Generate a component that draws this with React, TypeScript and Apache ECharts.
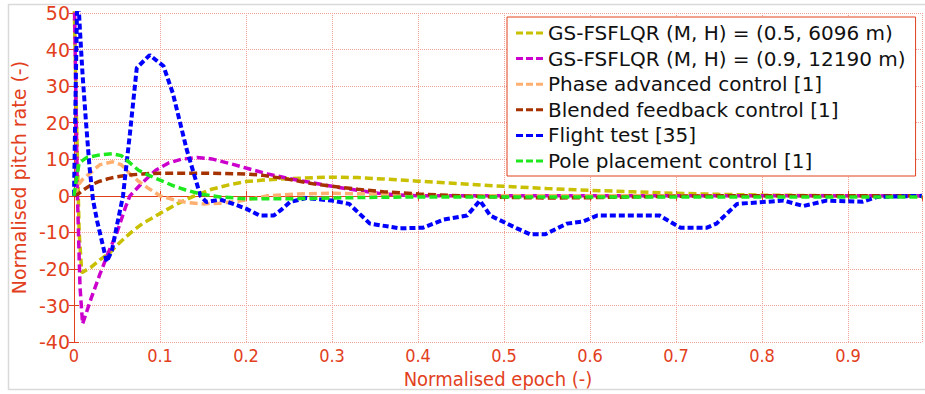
import React, { useEffect, useRef } from "react";
import * as echarts from "echarts";

// ---- data (x: normalised epoch, y: normalised pitch rate) ----
const seriesNames = [
  "GS-FSFLQR (M, H) = (0.5, 6096 m)",
  "GS-FSFLQR (M, H) = (0.9, 12190 m)",
  "Phase advanced control [1]",
  "Blended feedback control [1]",
  "Flight test [35]",
  "Pole placement control [1]",
];

const gsLow: [number, number][] = [
  [0, 55], [0.003, 20], [0.006, -10], [0.009, -21], [0.02, -19.5], [0.03, -17.5],
  [0.042, -15.5], [0.05, -13.5], [0.06, -11.3], [0.07, -9.3], [0.08, -7.5],
  [0.09, -6.2], [0.1, -4.8], [0.12, -2.2], [0.14, 0], [0.16, 1.8], [0.18, 3],
  [0.2, 3.9], [0.22, 4.3], [0.25, 4.7], [0.28, 5], [0.3, 5.1], [0.33, 5],
  [0.36, 4.6], [0.4, 4], [0.45, 3.3], [0.5, 2.6], [0.55, 2], [0.6, 1.5],
  [0.65, 1.1], [0.7, 0.7], [0.75, 0.4], [0.8, 0.2], [0.85, 0.1], [0.9, 0], [0.986, 0],
];

const gsHigh: [number, number][] = [
  [0, 60], [0.004, 0], [0.007, -25], [0.01, -35], [0.02, -28], [0.03, -21.5],
  [0.04, -15.5], [0.05, -10], [0.06, -3], [0.065, 0], [0.08, 3.7], [0.095, 7],
  [0.11, 9], [0.125, 10], [0.143, 10.5], [0.16, 10.1], [0.185, 8.6], [0.2, 7.6],
  [0.225, 6], [0.25, 4.7], [0.265, 4.1], [0.3, 2.6], [0.33, 1.5], [0.36, 0.5],
  [0.4, 0], [0.986, 0],
];

const phaseAdvanced: [number, number][] = [
  [0, 0], [0.005, 3], [0.01, 4.5], [0.02, 6.5], [0.03, 8.5], [0.045, 9.3],
  [0.055, 8.5], [0.065, 6], [0.075, 4], [0.085, 2.3], [0.1, 0], [0.115, -1],
  [0.13, -1.8], [0.15, -2.2], [0.17, -2], [0.19, -1.5], [0.21, -0.7], [0.225, 0],
  [0.26, 0.5], [0.3, 0.7], [0.35, 0.5], [0.4, 0.2], [0.45, 0], [0.986, 0],
];

const blended: [number, number][] = [
  [0, 0], [0.005, 0.5], [0.01, 1.5], [0.02, 3], [0.03, 4], [0.04, 4.7],
  [0.05, 5.2], [0.06, 5.6], [0.08, 6], [0.1, 6.2], [0.15, 6.2], [0.2, 6],
  [0.22, 5.6], [0.25, 4.5], [0.28, 3.2], [0.3, 2.6], [0.33, 1.8], [0.36, 1.1],
  [0.4, 0.5], [0.45, 0], [0.5, -0.4], [0.55, -0.6], [0.6, -0.5], [0.65, -0.3],
  [0.7, -0.1], [0.75, 0], [0.986, 0],
];

const flightTest: [number, number][] = [
  [0, 0], [0.002, 30], [0.004, 58], [0.007, 45], [0.01, 33], [0.014, 20],
  [0.018, 8], [0.022, -1], [0.027, -7], [0.034, -14], [0.038, -18], [0.044, -15],
  [0.05, -8], [0.057, 0], [0.065, 17], [0.073, 35], [0.088, 38.5], [0.104, 35.5],
  [0.115, 28], [0.131, 12.7], [0.147, 0], [0.154, -1.7], [0.17, -1], [0.185, -2.2],
  [0.2, -3.5], [0.216, -5.4], [0.232, -5.4], [0.24, -4], [0.251, -1.7], [0.27, -0.6],
  [0.3, -1.3], [0.32, -2.2], [0.344, -7.6], [0.379, -8.9], [0.406, -8.7],
  [0.43, -6.5], [0.457, -5.4], [0.472, -1.3], [0.484, -5.4], [0.515, -8.9],
  [0.53, -10.5], [0.548, -10.5], [0.573, -7.6], [0.592, -7], [0.608, -5.4],
  [0.681, -5.4], [0.705, -8.7], [0.736, -8.7], [0.747, -7.6], [0.771, -2.2],
  [0.825, -1.3], [0.848, -2.8], [0.875, -1.3], [0.917, -1.6], [0.934, -0.3],
  [0.986, 0],
];

const polePlacement: [number, number][] = [
  [0, 0], [0.003, 5], [0.006, 9], [0.015, 10.5], [0.03, 11.2], [0.045, 11.5],
  [0.055, 11], [0.065, 9], [0.075, 7], [0.088, 5.5], [0.1, 4.3], [0.115, 2.8],
  [0.13, 1.6], [0.147, 0.5], [0.17, -0.3], [0.2, -0.8], [0.25, -0.8], [0.3, -0.6],
  [0.35, -0.4], [0.4, -0.3], [0.986, -0.3],
];

const seriesData = [gsLow, gsHigh, phaseAdvanced, blended, flightTest, polePlacement];
const seriesColors = ["#c8c000", "#cc00cc", "#ffb070", "#a63200", "#0000ff", "#1ee81e"];

const xTicks = { min: 0, max: 0.986, interval: 0.1 };
const yTicks = { min: -40, max: 50, interval: 10 };

const RED = "#e2401c";
const GRID = "#f3a096";
const DASH_ICON = "path://M0,0h7v3h-7z M10,0h7v3h-7z M20,0h7v3h-7z";

export default function App() {
  const ref = useRef<HTMLDivElement>(null);

  useEffect(() => {
    if (!ref.current) return;
    const chart = echarts.init(ref.current, null, { renderer: "svg" });

    const series = seriesNames.map((name, i) => ({
      name,
      type: "line",
      data: seriesData[i],
      showSymbol: false,
      symbol: "none",
      clip: true,
      lineStyle: {
        color: seriesColors[i],
        width: i === 4 ? 4 : 3.5,
        type: i === 4 ? [6, 3] : [8, 4],
      },
      itemStyle: { color: seriesColors[i] },
    }));

    const option = {
      animation: false,
      backgroundColor: "#ffffff",
      textStyle: { fontFamily: "DejaVu Sans" },
      grid: { left: 74, top: 13, right: 3, bottom: 49, show: false },
      graphic: [
        {
          type: "rect",
          shape: { x: 8.5, y: 4.5, width: 960, height: 385 },
          style: { fill: "none", stroke: "#d9d9d9", lineWidth: 1.5 },
          silent: true,
        },
      ],
      legend: {
        orient: "vertical",
        left: 507,
        top: 17,
        data: seriesNames.map((n) => ({ name: n, icon: DASH_ICON })),
        backgroundColor: "#ffffff",
        borderColor: RED,
        borderWidth: 1,
        padding: [6, 10, 5, 9],
        itemWidth: 27,
        itemHeight: 3,
        itemGap: 5.6,
        textStyle: { color: "#111", fontSize: 20, lineHeight: 20, fontFamily: "DejaVu Sans" },
      },
      xAxis: [
        {
          type: "value",
          min: xTicks.min,
          max: xTicks.max,
          interval: xTicks.interval,
          name: "Normalised epoch (-)",
          nameLocation: "middle",
          nameGap: 24,
          nameTextStyle: { color: RED, fontSize: 20, fontFamily: "DejaVu Sans Condensed, DejaVu Sans" },
          axisLine: { show: true, lineStyle: { color: RED, width: 1 } },
          axisTick: { show: true, inside: true, length: 5, lineStyle: { color: RED } },
          axisLabel: {
            color: RED,
            fontSize: 18,
            margin: 4,
            showMaxLabel: false,
            fontFamily: "DejaVu Sans Condensed, DejaVu Sans",
            formatter: (v: number) => String(Math.round(v * 10) / 10),
          },
          splitLine: { show: true, lineStyle: { color: GRID, type: "dotted", width: 1 } },
        },
        {
          type: "value",
          position: "top",
          min: xTicks.min,
          max: xTicks.max,
          interval: xTicks.interval,
          axisLine: { show: true, lineStyle: { color: RED, width: 1 } },
          axisTick: { show: true, inside: true, length: 5, lineStyle: { color: RED } },
          axisLabel: { show: false },
          splitLine: { show: false },
        },
      ],
      yAxis: [
        {
          type: "value",
          min: yTicks.min,
          max: yTicks.max,
          interval: yTicks.interval,
          name: "Normalised pitch rate (-)",
          nameLocation: "middle",
          nameGap: 35,
          nameTextStyle: { color: RED, fontSize: 19, fontFamily: "DejaVu Sans" },
          axisLine: { show: true, lineStyle: { color: RED, width: 1 } },
          axisTick: { show: true, inside: true, length: 5, lineStyle: { color: RED } },
          axisLabel: { color: RED, fontSize: 19, margin: 4, fontFamily: "DejaVu Sans" },
          splitLine: { show: true, lineStyle: { color: GRID, type: "dotted", width: 1 } },
        },
        {
          type: "value",
          position: "right",
          min: yTicks.min,
          max: yTicks.max,
          interval: yTicks.interval,
          axisLine: { show: true, lineStyle: { color: RED, width: 1 } },
          axisTick: { show: true, inside: true, length: 5, lineStyle: { color: RED } },
          axisLabel: { show: false },
          splitLine: { show: false },
        },
      ],
      series,
    };

    chart.setOption(option as any);
    return () => chart.dispose();
  }, []);

  return (
    <div
      ref={ref}
      style={{ position: "fixed", left: 0, top: 0, width: 925, height: 394, background: "#fff" }}
    />
  );
}
